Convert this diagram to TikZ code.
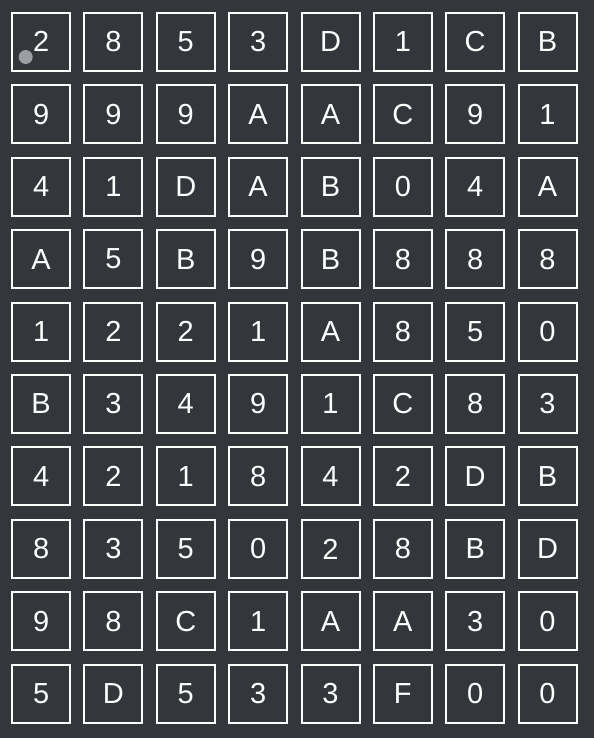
\documentclass[tikz,border=0pt]{standalone}
\usepackage{fontspec}
\setmainfont{Liberation Sans}
\usepackage{xcolor}

\definecolor{boardbg}{HTML}{33363B}
\definecolor{dotgray}{HTML}{9C9EA1}

\begin{document}
\begin{tikzpicture}[x=1pt, y=-1pt,
  cellbox/.style={draw=white, line width=2pt, fill=boardbg, minimum width=58pt, minimum height=58pt, inner sep=0pt},
  celltext/.style={text=white, font=\fontsize{29}{30}\selectfont}]
% Board background
\fill[boardbg] (0,0) rectangle (594,738);
\useasboundingbox (0,0) rectangle (594,738);

% Cells, one row per list
\foreach \r/\vals in {0/{2,8,5,3,D,1,C,B}, 1/{9,9,9,A,A,C,9,1}, 2/{4,1,D,A,B,0,4,A},
                      3/{A,5,B,9,B,8,8,8}, 4/{1,2,2,1,A,8,5,0}, 5/{B,3,4,9,1,C,8,3},
                      6/{4,2,1,8,4,2,D,B}, 7/{8,3,5,0,2,8,B,D}, 8/{9,8,C,1,A,A,3,0},
                      9/{5,D,5,3,3,F,0,0}}{
  \foreach \v [count=\c from 0] in \vals {
    \node[cellbox] (cell-\r-\c) at ({41.1+72.35*\c},{41.8+72.44*\r}) {};
    \node[celltext] at (cell-\r-\c) {\v};
  }
}

% Marker dot
\node[circle, fill=dotgray, minimum size=14pt, inner sep=0pt] (dot) at (25.7,57) {};
\end{tikzpicture}
\end{document}
